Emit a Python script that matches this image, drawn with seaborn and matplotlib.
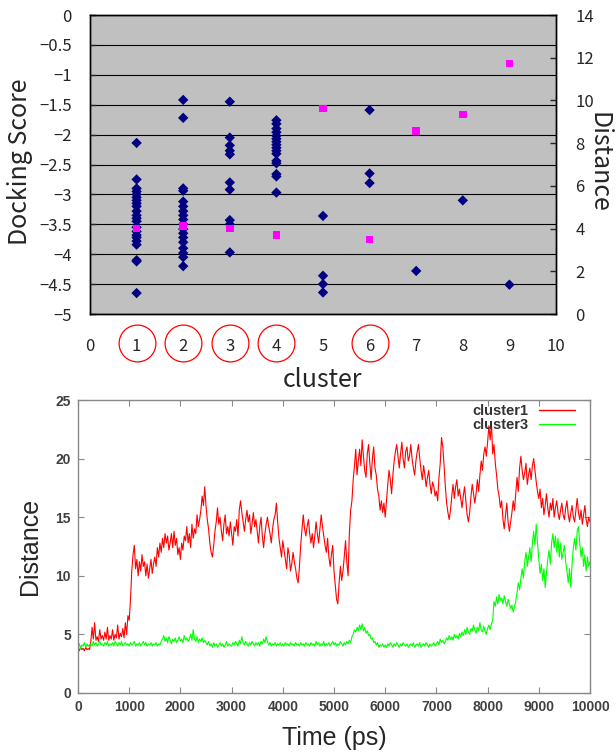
import matplotlib
matplotlib.use("Agg")
import matplotlib.pyplot as plt
import seaborn as sns
import numpy as np
import pandas as pd
from matplotlib.transforms import blended_transform_factory

# ---------------- data: top chart ----------------
score_c1 = [-2.14, -2.75, -2.90, -2.95, -3.00, -3.05, -3.10, -3.15, -3.20, -3.28, -3.35,
            -3.40, -3.45, -3.55, -3.62, -3.68, -3.72, -3.78, -3.84, -4.10, -4.12, -4.65]
score_c2 = [-1.42, -1.72, -2.90, -2.94, -3.12, -3.20, -3.28, -3.35, -3.42, -3.50, -3.58,
            -3.65, -3.72, -3.80, -3.90, -3.98, -4.05, -4.20]
score_c3 = [-1.45, -2.05, -2.18, -2.27, -2.33, -2.80, -2.92, -3.43, -3.50, -3.97]
score_c4 = [-1.76, -1.82, -1.90, -1.96, -2.02, -2.07, -2.12, -2.17, -2.22, -2.27, -2.32,
            -2.44, -2.48, -2.66, -2.70, -2.97]
score_c5 = [-3.36, -4.36, -4.50, -4.64]
score_c6 = [-1.59, -2.65, -2.81]
score_c7 = [-4.28]
score_c8 = [-3.10]
score_c9 = [-4.51]

clusters = [1, 2, 3, 4, 5, 6, 7, 8, 9]
distance = [4.00, 4.13, 4.00, 3.70, 9.62, 3.49, 8.56, 9.34, 11.72]
circled_clusters = [1, 2, 3, 4, 6]

x_ticks_top = list(range(0, 11))
left_ticks = [0, -0.5, -1, -1.5, -2, -2.5, -3, -3.5, -4, -4.5, -5]
right_ticks = [0, 2, 4, 6, 8, 10, 12, 14]

# ---------------- data: bottom chart (sampled every 25 ps) ----------------
time_step_ps = 25
dist_cluster1 = [
    3.8, 3.6, 3.9, 3.7, 3.8, 3.6, 3.9, 3.7, 3.8, 3.7,
    4.4, 5.6, 4.6, 6.0, 4.5, 4.8, 4.4, 5.4, 4.6, 4.9,
    4.5, 5.2, 4.6, 5.6, 4.5, 4.9, 4.6, 5.4, 4.5, 5.0, 4.7, 5.8, 4.6, 5.1, 4.8, 5.5, 4.7, 6.0, 5.0, 6.6,
    6.2, 8.0, 10.4, 11.8, 12.6, 10.6, 11.4, 10.0, 11.2, 10.4, 11.8, 10.8, 11.2, 10.0, 11.0, 9.8, 10.6, 11.4, 10.2, 11.0,
    11.6, 10.8, 12.4, 11.6, 12.8, 12.0, 13.2, 12.4, 13.6, 12.8, 13.4, 12.2, 12.8, 13.6, 12.4, 13.8, 12.6, 13.2, 11.8, 12.4,
    11.4, 12.8, 12.2, 13.4, 13.0, 14.2, 12.8, 13.6, 12.4, 14.4, 13.2, 14.0, 13.6, 15.2, 14.2, 14.8, 15.6, 16.8, 16.0, 17.6,
    16.0, 14.8, 14.0, 12.8, 12.0, 11.6, 12.6, 13.8, 14.6, 15.8, 14.4, 15.0, 13.8, 13.0, 14.4, 15.2, 13.6, 14.2, 13.4, 14.6,
    13.6, 12.6, 14.2, 13.8, 14.8, 13.4, 15.6, 16.4, 15.4, 14.6, 13.8, 14.8, 15.6, 14.6, 15.2, 13.6, 14.4, 15.4, 14.2, 14.8,
    13.8, 12.8, 14.2, 15.0, 13.4, 12.4, 13.6, 14.4, 15.0, 14.2, 13.6, 12.8, 14.0, 14.8, 15.2, 16.2, 14.6, 13.2, 12.4, 11.6,
    13.0, 12.2, 11.4, 10.6, 12.4, 11.8, 10.4, 11.0, 12.0, 11.2, 10.6, 9.8, 9.4, 10.8, 12.6, 14.0, 15.2, 14.0, 13.4, 14.2,
    14.8, 13.6, 12.8, 13.6, 12.4, 13.4, 14.6, 13.6, 12.8, 14.0, 15.2, 14.2, 13.4, 12.6, 12.0, 13.2, 11.6, 10.8, 11.8, 12.6,
    10.4, 9.2, 8.0, 7.6, 9.4, 10.8, 9.6, 10.4, 11.6, 13.0, 11.2, 10.0, 13.6, 15.6, 16.4, 18.2, 19.4, 20.8, 18.6, 19.8,
    20.8, 19.4, 21.6, 20.2, 19.0, 18.4, 20.4, 21.2, 19.6, 18.2, 20.0, 21.0, 19.2, 18.6, 17.4, 16.8, 15.6, 16.4, 15.4, 16.2,
    15.0, 16.4, 17.8, 19.0, 18.2, 17.0, 18.6, 19.8, 20.6, 21.2, 20.2, 19.2, 20.4, 21.4, 20.0, 19.2, 20.6, 21.0, 19.8, 20.2,
    21.2, 20.0, 19.2, 18.6, 19.8, 20.6, 21.2, 20.0, 19.0, 18.2, 19.4, 18.6, 17.6, 18.4, 19.0, 17.8, 17.0, 18.0, 17.6, 16.8,
    17.2, 16.4, 18.4, 19.6, 21.8, 21.0, 19.4, 17.6, 16.2, 15.4, 14.8, 15.6, 16.8, 17.8, 16.6, 17.6, 18.2, 16.8, 17.4, 16.6,
    15.8, 16.8, 17.6, 16.4, 15.2, 14.6, 15.4, 16.8, 17.8, 17.0, 16.2, 17.0, 18.2, 17.2, 18.6, 19.8, 19.0, 20.4, 21.0, 20.2,
    21.4, 22.8, 21.6, 23.0, 20.4, 21.2, 19.6, 18.6, 17.4, 16.8, 15.8, 16.4, 14.8, 14.0, 15.2, 16.2, 14.6, 13.8, 14.6, 15.4,
    16.4, 15.6, 17.0, 18.4, 17.2, 19.2, 20.2, 19.0, 18.2, 18.8, 19.6, 17.8, 18.6, 19.2, 18.2, 19.4, 20.0, 19.0, 18.0, 17.2,
    16.6, 17.4, 15.8, 16.6, 15.2, 16.0, 17.0, 15.8, 15.0, 16.2, 15.6, 16.6, 15.0, 15.8, 16.4, 15.4, 14.8, 15.6, 16.2, 15.2,
    14.8, 15.8, 16.4, 15.2, 14.6, 15.4, 16.0, 15.0, 14.6, 15.6, 16.6, 15.4, 14.8, 15.6, 14.4, 15.2, 16.0, 14.8, 14.2, 15.0,
    14.6,
]
dist_cluster3 = [
    3.9, 4.2, 3.8, 4.1, 4.0, 4.3, 3.9, 4.2, 4.0, 4.1,
    4.2, 4.0, 4.4, 4.1, 4.3, 4.0, 4.2, 4.4, 4.1, 4.2,
    4.0, 4.3, 4.1, 4.4, 4.0, 4.2, 4.1, 4.3, 4.0, 4.4, 4.2, 4.0, 4.3, 4.1, 4.4, 4.0, 4.2, 4.3, 4.1, 4.2,
    4.0, 4.3, 4.1, 4.2, 4.4, 4.0, 4.2, 4.1, 4.3, 4.0, 4.2, 4.4, 4.1, 4.3, 4.0, 4.2, 4.1, 4.3, 4.0, 4.2,
    4.1, 4.3, 4.0, 4.2, 4.1, 4.4, 4.6, 4.9, 4.4, 4.7, 4.3, 4.8, 4.5, 4.2, 4.6, 4.4, 4.7, 4.3, 4.5, 4.8,
    4.4, 4.6, 4.3, 4.9, 4.5, 4.7, 4.4, 4.6, 5.0, 4.5, 5.4, 4.6, 4.4, 4.8, 4.3, 4.6, 4.4, 4.7, 4.3, 4.5,
    4.3, 4.1, 4.4, 4.0, 4.2, 3.9, 4.3, 4.0, 4.2, 3.9, 4.1, 4.3, 4.0, 4.2, 3.9, 4.1, 4.4, 4.0, 4.2, 4.1,
    4.0, 4.3, 4.1, 4.4, 4.2, 4.0, 4.5, 4.2, 4.8, 4.3, 4.1, 4.4, 4.2, 4.0, 4.3, 4.1, 4.4, 4.2, 4.0, 4.3,
    4.1, 4.3, 4.0, 4.4, 4.2, 4.6, 4.3, 4.8, 4.4, 4.1, 4.3, 4.0, 4.2, 4.1, 4.3, 4.0, 4.2, 4.1, 4.3, 4.0,
    4.2, 4.0, 4.3, 4.1, 4.2, 4.0, 4.3, 4.1, 4.2, 4.0, 4.3, 4.1, 4.2, 4.0, 4.3, 4.1, 4.2, 4.0, 4.3, 4.1,
    4.2, 4.0, 4.3, 4.1, 4.2, 4.0, 4.4, 4.1, 4.3, 4.0, 4.2, 4.1, 4.4, 4.0, 4.2, 4.1, 4.3, 4.0, 4.2, 4.4,
    4.1, 4.3, 4.0, 4.2, 4.1, 4.4, 4.2, 4.0, 4.3, 4.1, 4.4, 4.2, 4.5, 4.3, 4.8, 5.0, 5.4, 5.2, 5.6, 5.3,
    5.8, 5.4, 5.9, 5.3, 5.6, 5.1, 5.3, 4.9, 5.0, 4.6, 4.7, 4.3, 4.4, 4.1, 4.3, 3.9, 4.1, 4.0, 4.2, 3.9,
    4.1, 3.9, 4.2, 4.0, 4.3, 4.1, 3.9, 4.2, 4.0, 4.3, 4.1, 3.9, 4.2, 4.0, 4.3, 4.1, 4.0, 4.2, 3.9, 4.1,
    4.2, 4.0, 4.3, 3.9, 4.1, 4.2, 4.0, 4.3, 3.9, 4.1, 4.2, 4.0, 4.3, 4.1, 3.9, 4.2, 4.0, 4.1, 4.3, 4.0,
    4.2, 4.4, 4.1, 4.6, 4.3, 4.5, 4.2, 4.4, 4.7, 4.5, 4.9, 4.6, 4.8, 4.5, 5.0, 4.7, 4.9, 4.6, 5.1, 4.8,
    5.2, 4.9, 5.4, 5.0, 5.6, 5.2, 5.0, 5.5, 5.3, 5.8, 5.4, 5.1, 5.6, 5.3, 6.0, 5.4, 5.2, 5.7, 5.3, 5.0,
    5.5, 5.8, 5.4, 5.9, 6.2, 7.8, 7.4, 8.2, 7.6, 8.4, 7.9, 8.1, 7.6, 8.3, 7.8, 7.4, 8.0, 7.6, 7.2, 7.5,
    6.9, 7.4, 7.8, 8.6, 9.4, 8.8, 9.8, 10.6, 9.8, 11.2, 12.0, 10.8, 11.6, 12.4, 11.2, 12.8, 13.8, 12.6, 14.4, 12.8,
    11.4, 10.2, 11.0, 9.6, 10.6, 9.0, 10.2, 11.4, 12.2, 11.0, 12.8, 13.6, 12.4, 13.4, 12.0, 13.2, 11.6, 12.8, 11.4, 12.0,
    12.6, 11.2, 10.4, 9.4, 10.6, 9.0, 11.0, 12.4, 13.2, 12.2, 13.8, 14.2, 12.8, 11.6, 12.4, 10.8, 11.8, 10.4, 11.6, 10.8,
    11.2,
]
time_c1 = np.arange(len(dist_cluster1)) * time_step_ps
time_c3 = np.arange(len(dist_cluster3)) * time_step_ps
x_ticks_bottom = list(range(0, 10001, 1000))
y_ticks_bottom = [0, 5, 10, 15, 20, 25]

# ---------------- build tables ----------------
score_lists = [score_c1, score_c2, score_c3, score_c4, score_c5,
               score_c6, score_c7, score_c8, score_c9]
df_dock = pd.DataFrame({
    "cluster": [c for c, s in zip(clusters, score_lists) for _ in s],
    "score": [v for s in score_lists for v in s],
})
df_dist = pd.DataFrame({"cluster": clusters, "distance": distance})
df_md = pd.DataFrame({"time": np.concatenate([time_c1, time_c3]),
                      "dist": dist_cluster1 + dist_cluster3,
                      "series": ["cluster1"] * len(time_c1) + ["cluster3"] * len(time_c3)})

# ---------------- style ----------------
sns.set_style("white")
plt.rcParams["font.family"] = ["Noto Sans CJK JP", "DejaVu Sans"]
plt.rcParams["axes.unicode_minus"] = True

W, H = 616, 753
fig = plt.figure(figsize=(W / 100, H / 100), dpi=100)

# ================= top chart =================
L, R, T, B = 90, 556, 15, 314
ax1 = fig.add_axes([L / W, 1 - B / H, (R - L) / W, (B - T) / H])
ax1.set_facecolor("#C0C0C0")
sns.scatterplot(data=df_dock, x="cluster", y="score", marker="D", color="#000080",
                s=28, edgecolor="none", linewidth=0, ax=ax1, zorder=3)
ax1.set_xlim(0, 10)
ax1.set_ylim(-5, 0)
ax1.set_xticks(x_ticks_top)
ax1.set_xticklabels([str(t) for t in x_ticks_top])
ax1.set_yticks(left_ticks)
ax1.set_yticklabels([("%g" % t).replace("-", "\u2212") for t in left_ticks])
ax1.grid(axis="y", color="black", lw=0.8)
ax1.grid(axis="x", visible=False)
ax1.set_axisbelow(True)
ax1.tick_params(axis="x", length=0, pad=17, labelsize=12)
ax1.tick_params(axis="y", direction="in", length=4.5, width=1, pad=13,
                labelsize=12, left=True)
ax1.set_xlabel("")
ax1.set_ylabel("")
for sp in ax1.spines.values():
    sp.set_color("black")
    sp.set_linewidth(1)

ax2 = ax1.twinx()
sns.scatterplot(data=df_dist, x="cluster", y="distance", marker="s", color="#FF00FF",
                s=30, edgecolor="none", linewidth=0, ax=ax2, zorder=3)
ax2.set_ylim(0, 14)
ax2.set_xlim(0, 10)
ax2.set_yticks(right_ticks)
ax2.set_yticklabels([str(t) for t in right_ticks])
ax2.tick_params(axis="y", direction="in", length=4.5, width=1, pad=14,
                labelsize=12, right=True)
ax2.set_xlabel("")
ax2.set_ylabel("")
for sp in ax2.spines.values():
    sp.set_color("black")
    sp.set_linewidth(1)

# red circles around selected cluster labels
trans = blended_transform_factory(ax1.transData, ax1.transAxes)
ax1.plot(circled_clusters, [-0.098] * len(circled_clusters), linestyle="none",
         marker="o", ms=26.5, mfc="none", mec="#FF0000", mew=0.9,
         transform=trans, clip_on=False)

fig.text(20 / W, 1 - 162 / H, "Docking Score", rotation=90, fontsize=18,
         ha="center", va="center")
fig.text(598 / W, 1 - 162 / H, "Distance", rotation=270, fontsize=18,
         ha="center", va="center")
fig.text(322 / W, 1 - 380 / H, "cluster", fontsize=18, ha="center", va="center")

# ================= bottom chart =================
L2, R2, T2, B2 = 78, 590, 400, 693
ax3 = fig.add_axes([L2 / W, 1 - B2 / H, (R2 - L2) / W, (B2 - T2) / H])
sns.lineplot(data=df_md, x="time", y="dist", hue="series",
             palette={"cluster1": "#FF0000", "cluster3": "#00FF00"},
             lw=0.8, estimator=None, ax=ax3)
ax3.set_xlim(0, 10000)
ax3.set_ylim(0, 25)
ax3.set_xticks(x_ticks_bottom)
ax3.set_yticks(y_ticks_bottom)
ax3.tick_params(direction="in", top=True, right=True, bottom=True, left=True,
                length=4, width=0.8, color="#888888", labelsize=10,
                labelcolor="#404040", pad=5)
for lbl in ax3.get_xticklabels() + ax3.get_yticklabels():
    lbl.set_fontweight("bold")
    lbl.set_family(["Liberation Sans", "DejaVu Sans"])
ax3.set_xlabel("")
ax3.set_ylabel("")
for sp in ax3.spines.values():
    sp.set_color("#888888")
    sp.set_linewidth(1)

leg = ax3.legend(loc="upper right", bbox_to_anchor=(0.971, 0.985), markerfirst=False,
                 frameon=False, handlelength=2.5, handletextpad=0.7,
                 labelspacing=0.0, borderpad=0, borderaxespad=0,
                 prop={"family": ["Liberation Sans", "DejaVu Sans"],
                       "weight": "bold", "size": 10.5})
for t in leg.get_texts():
    t.set_color("#333333")
for ln in leg.get_lines():
    ln.set_linewidth(1.0)

fig.text(30 / W, 1 - 546 / H, "Distance", rotation=90, fontsize=18,
         family=["Liberation Sans", "DejaVu Sans"], ha="center", va="center")
fig.text(334 / W, 1 - 738 / H, "Time (ps)", fontsize=18,
         family=["Liberation Sans", "DejaVu Sans"], ha="center", va="center")

fig.savefig("out.png", dpi=100)
